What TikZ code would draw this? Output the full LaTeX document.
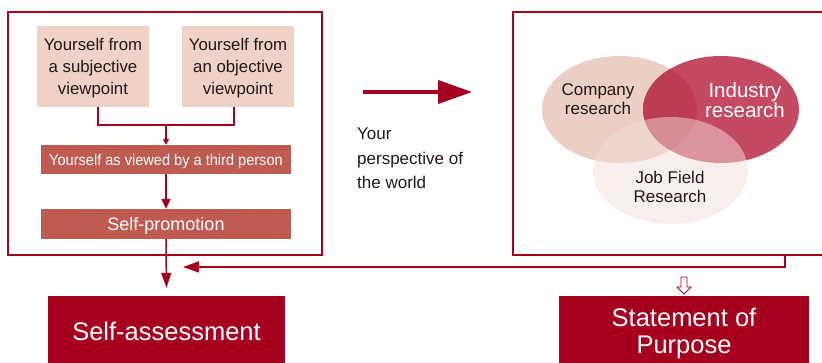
\documentclass[tikz,border=0pt]{standalone}
\usepackage{fontspec}
\setmainfont{Liberation Sans}
\usetikzlibrary{arrows.meta,calc}
\definecolor{dred}{HTML}{A6001F}
\definecolor{lightbox}{HTML}{EFD1C7}
\definecolor{midbox}{HTML}{C05B52}
\definecolor{txt}{HTML}{231815}
\definecolor{company}{HTML}{EBCFC4}
\definecolor{industry}{HTML}{C44A62}
\definecolor{ciover}{HTML}{BC3C53}
\definecolor{jobc}{HTML}{F2DDD8}
\begin{document}
\begin{tikzpicture}[x=1pt,y=-1pt,
  frame/.style={draw=dred, line width=1.3pt, inner sep=0pt},
  lbox/.style={fill=lightbox, text=txt, align=center, minimum width=112pt, minimum height=81pt, inner sep=0pt, font=\fontsize{16.8}{22}\selectfont, text depth=0pt},
  mbox/.style={fill=midbox, text=white, minimum width=250pt, inner sep=0pt, text depth=0pt},
  bbox/.style={fill=dred, text=white, align=center, inner sep=0pt, text depth=0pt},
  conn/.style={draw=dred, line width=1.5pt},
  venntext/.style={align=center, inner sep=0pt}
  ]
\clip (0,0) rectangle (822,363);
\useasboundingbox (0,0) rectangle (822,363);

% left frame
\node[frame, minimum width=314pt, minimum height=243pt] (leftbox) at (165,133.5) {};
\node[lbox] (sub) at (93,66.5) {Yourself from\\a subjective\\viewpoint};
\node[lbox] (obj) at (238,66.5) {Yourself from\\an objective\\viewpoint};
\node[mbox, minimum height=29pt, text height=11.1pt, font=\fontsize{15.5}{18}\selectfont\addfontfeature{FakeStretch=0.94}] (third) at (166,159.5) {Yourself as viewed by a third person};
\node[mbox, minimum height=30pt, text height=12.9pt, font=\fontsize{18}{20}\selectfont] (promo) at (166,224) {Self-promotion};

% bottom boxes
\node[bbox, minimum width=237pt, minimum height=70pt, text height=18.3pt, font=\fontsize{25.5}{27}\selectfont] (selfass) at (166.5,331) {Self-assessment};
\node[bbox, minimum width=250pt, minimum height=70pt, font=\fontsize{25.5}{27}\selectfont] (stmt) at (684,331) {Statement of\\Purpose};

% right frame
\node[frame, minimum width=322pt, minimum height=243pt] (rightbox) at (674,133.5) {};

% Venn
\fill[company] (619.5,109.5) ellipse [x radius=77.5pt, y radius=53.5pt];
\fill[industry] (721,109.5) ellipse [x radius=78pt, y radius=53.5pt];
\begin{scope}
  \clip (619.5,109.5) ellipse [x radius=77.5pt, y radius=53.5pt];
  \fill[ciover] (721,109.5) ellipse [x radius=78pt, y radius=53.5pt];
\end{scope}
\fill[jobc, opacity=0.5] (670.5,170.5) ellipse [x radius=77.5pt, y radius=53.5pt];
\node[venntext, text=txt, font=\fontsize{17}{18.5}\selectfont] (comp) at (598,99) {Company\\research};
\node[venntext, text=white, font=\fontsize{20.5}{18.5}\selectfont] (ind) at (745,100) {Industry\\research};
\node[venntext, text=txt, font=\fontsize{17}{18.5}\selectfont] (job) at (670,187) {Job Field\\Research};

% middle
\coordinate (ba) at (363,92);
\coordinate (bb) at (472,92);
\draw[draw=dred, line width=4pt, -{Triangle[length=34pt,width=23pt]}] (ba) -- (bb);
\node[anchor=north west, align=left, inner sep=0pt, text=txt, font=\fontsize{17}{24.5}\selectfont] (persp) at (357,128) {Your\\perspective of\\the world};

% connectors
\coordinate (join) at (166,125);
\draw[conn] ([xshift=5pt]sub.south) |- (join) -| ([xshift=-4pt]obj.south);
\draw[conn, -{Triangle[length=6pt,width=6pt]}] (join) -- (third.north);
\draw[conn, -{Triangle[length=10pt,width=9pt]}] (third.south) -- (promo.north);
\draw[conn, -{Triangle[length=15pt,width=10pt]}, shorten >=8pt] (promo.south) -- (selfass.north);
\coordinate (tip) at (183,267);
\draw[conn, -{Triangle[length=16pt,width=11pt]}] ([xshift=111pt]rightbox.south) |- (tip);

% hollow arrow
\draw[dred, fill=white, line width=0.9pt] (681,277) -- (687,277) -- (687,287) -- (691,287) -- (684,294) -- (677,287) -- (681,287) -- cycle;
\end{tikzpicture}
\end{document}
